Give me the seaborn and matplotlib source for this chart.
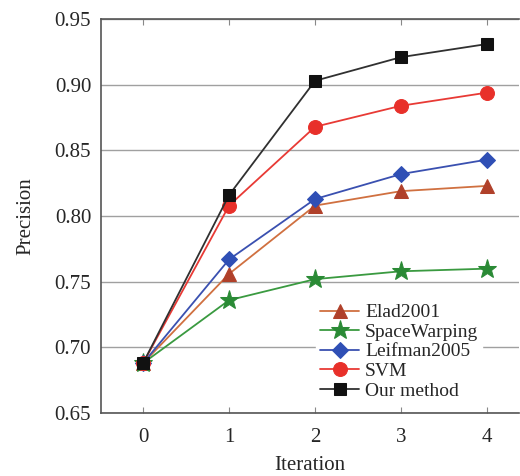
import matplotlib
matplotlib.use("Agg")
import matplotlib.pyplot as plt
import seaborn as sns
import pandas as pd

iterations = [0, 1, 2, 3, 4]
elad2001 = [0.688, 0.756, 0.808, 0.819, 0.823]
space_warping = [0.688, 0.736, 0.752, 0.758, 0.760]
leifman2005 = [0.688, 0.767, 0.813, 0.832, 0.843]
svm = [0.688, 0.808, 0.868, 0.884, 0.894]
our_method = [0.688, 0.816, 0.903, 0.921, 0.931]

sns.set_style("white")
plt.rcParams["font.family"] = ["Liberation Serif", "DejaVu Serif"]

series = [
    ("Elad2001", elad2001, "#d07040", "#b0402a", "^", 10),
    ("SpaceWarping", space_warping, "#3a9a40", "#2a8a35", "*", 14),
    ("Leifman2005", leifman2005, "#3a50b0", "#2f4fb5", "D", 8),
    ("SVM", svm, "#e83a35", "#e8302a", "o", 10),
    ("Our method", our_method, "#303030", "#111111", "s", 8),
]

fig, ax = plt.subplots(figsize=(5.2, 4.76), dpi=100)
fig.subplots_adjust(left=0.194, right=0.998, bottom=0.132, top=0.960)

for name, values, line_color, marker_color, marker, msize in series:
    df = pd.DataFrame({"Iteration": iterations, "Precision": values})
    sns.lineplot(
        data=df,
        x="Iteration",
        y="Precision",
        ax=ax,
        color=line_color,
        marker=marker,
        markersize=msize,
        markerfacecolor=marker_color,
        markeredgecolor=marker_color,
        linewidth=1.3,
        label=name,
    )

ax.set_xlim(-0.49, 4.37)
ax.set_ylim(0.65, 0.95)
ax.set_xticks(iterations)
ax.set_yticks([0.65, 0.70, 0.75, 0.80, 0.85, 0.90, 0.95])
ax.set_yticklabels([f"{v:.2f}" for v in ax.get_yticks()])
ax.yaxis.grid(True, color="#a0a0a0", linewidth=1.0)
ax.set_axisbelow(True)

ax.tick_params(axis="x", direction="in", length=4, top=True, bottom=True,
               labelsize=15, pad=11, color="#888888")
ax.tick_params(axis="y", direction="in", length=0, labelsize=15, pad=7)
for spine in ax.spines.values():
    spine.set_color("#555555")
    spine.set_linewidth(1.2)
ax.spines["right"].set_visible(False)

ax.set_xlabel("Iteration", fontsize=15, labelpad=6)
ax.set_ylabel("Precision", fontsize=15, labelpad=14)

leg = ax.legend(loc="lower right", bbox_to_anchor=(0.935, 0.0), fontsize=14,
                frameon=True, framealpha=1.0, edgecolor="white", facecolor="white",
                labelspacing=0.1, handlelength=2.0, handletextpad=0.3,
                borderpad=0.2, fancybox=False)

fig.savefig("out.png", dpi=100)
